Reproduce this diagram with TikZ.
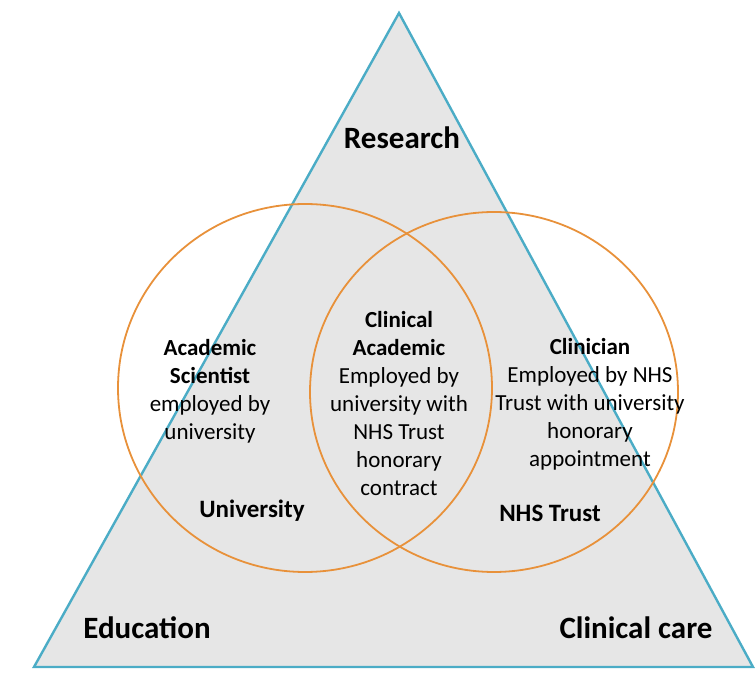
\documentclass[tikz,border=0pt]{standalone}
\usepackage{fontspec}
\setmainfont{Carlito}
\usepackage{tikz}
\usetikzlibrary{positioning}
\usepackage{xcolor}
\definecolor{triblue}{HTML}{4BACC6}
\definecolor{ringorange}{HTML}{E8913A}
\definecolor{trifill}{HTML}{E6E6E6}

\begin{document}
\begin{tikzpicture}[x=1pt,y=1pt,thick]
      \tikzstyle{corner}=[font=\fontsize{31}{36}\selectfont\bfseries]
      \tikzstyle{body}=[align=center,font=\fontsize{23}{28}\selectfont]
      \tikzstyle{org}=[font=\fontsize{25}{30}\selectfont\bfseries]
      \tikzstyle{ring}=[draw=ringorange,line width=1.8pt]
      \useasboundingbox (0,0) rectangle (755,675);
      % triangle
      \coordinate (apex) at (399,662);
      \coordinate (bl) at (34,8);
      \coordinate (br) at (753,8);
      \draw[triblue,fill=trifill,line width=2.4pt](apex)--(bl)--(br)--cycle;
      % two rings
      \draw[ring](305,287) ellipse (187 and 184);
      \draw[ring](494,283) ellipse (184 and 180);
      \node[corner](research) at (402,537){Research};
      \node[corner](education) at (147,47){Education};
      \node[corner](care) at (636,47){Clinical care};
      \node[body](academic) at (210,284){\textbf{Academic}\\\textbf{Scientist}\\employed by\\university};
      \node[body](clin-acad) at (399,271){\textbf{Clinical}\\\textbf{Academic}\\Employed by\\university with\\NHS Trust\\honorary\\contract};
      \node[body](clinician) at (590,271){\textbf{Clinician}\\Employed by NHS\\Trust with university\\honorary\\appointment};
      \node[org](univ) at (252,164){University};
      \node[org](nhs) at (550,162){NHS Trust};
\end{tikzpicture}
\end{document}
